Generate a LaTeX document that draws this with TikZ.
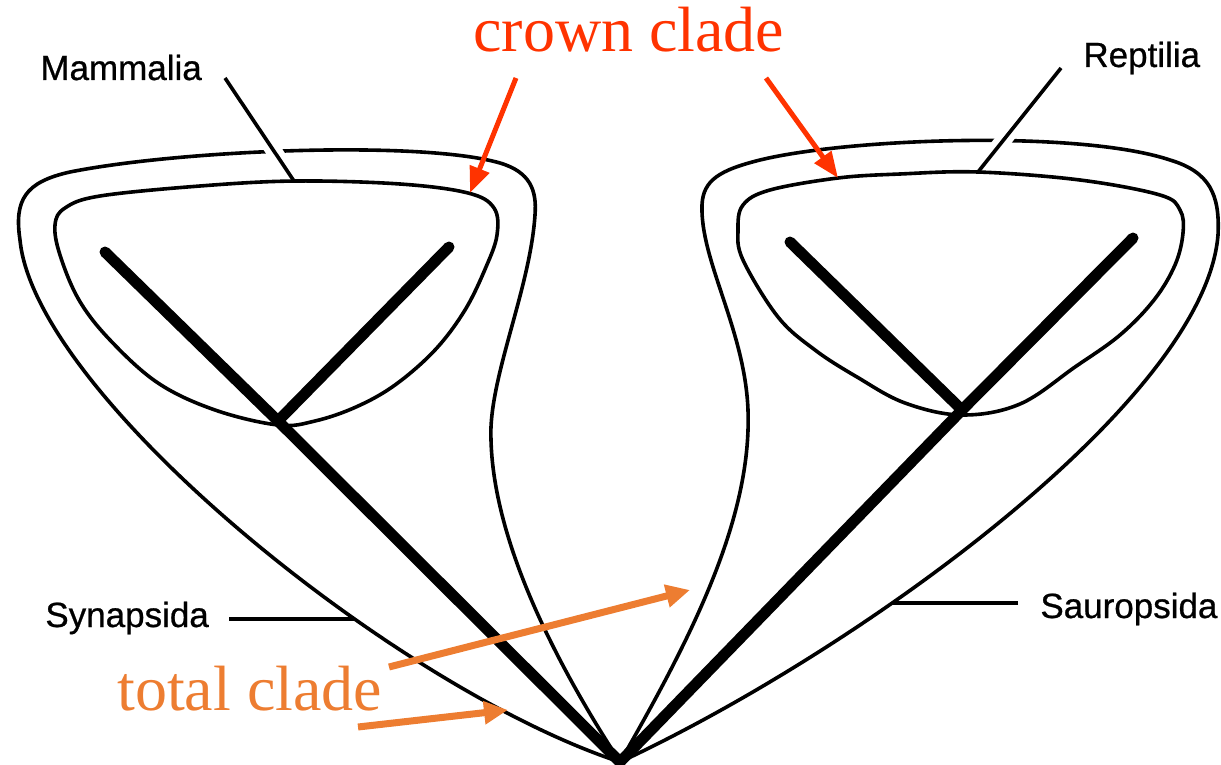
\documentclass[tikz,border=0pt]{standalone}
\usepackage{fontspec}
\setmainfont{Liberation Serif}
\setsansfont{Liberation Sans}
\newfontfamily\taxonfont[FakeBold=0.7]{Liberation Sans}
\usetikzlibrary{arrows.meta}
\definecolor{crownRed}{RGB}{255,51,0}
\definecolor{totalOrange}{RGB}{237,125,49}

\tikzset{
  contour/.style={line width=1.8pt, line join=round},
  branch/.style={line width=5.5pt, line cap=round},
  taxon/.style={font=\taxonfont\fontsize{17.5}{20}\selectfont, inner sep=0pt, anchor=base west},
  pointer/.style={line width=1.8pt},
  gapmask/.style={draw=white, line width=8pt},
  cladelbl/.style={font=\fontsize{32}{36}\selectfont, inner sep=0pt, anchor=base west},
  crownarrow/.style={-{Triangle[length=13pt,width=10pt]}, line width=2.5pt, draw=crownRed},
  totalarrow/.style={-{Triangle[length=12pt,width=11pt]}, line width=3.5pt, draw=totalOrange},
}

\begin{document}
\begin{tikzpicture}[x=0.5pt,y=-0.5pt]
    \useasboundingbox (0,0) rectangle (1221,765);
    % Tree points
    \coordinate (root) at (620,762);
    \coordinate (mamN) at (278,421);
    \coordinate (mamL) at (105,252);
    \coordinate (mamR) at (449,247);
    \coordinate (repN) at (962,410);
    \coordinate (repL) at (790,242);
    \coordinate (repR) at (1133,238);
    % Total clades (outer)
    \draw[contour] (root) .. controls (395,688) and (35,395) .. coordinate[pos=0.35] (synB) (20,240)
      .. controls (14,200) and (25,182) .. (70,172)
      .. controls (180,150) and (420,140) .. (500,163)
      .. controls (530,172) and (537,190) .. (535,215)
      .. controls (530,290) and (488,380) .. (491,440)
      .. controls (494,560) and (580,700) .. (root);
    \draw[contour] (root) .. controls (690,640) and (752,520) .. (748,410)
      .. controls (745,330) and (700,260) .. (702,205)
      .. controls (703,180) and (720,170) .. (760,160)
      .. controls (850,138) and (1080,130) .. (1170,160)
      .. controls (1210,172) and (1220,195) .. (1218,235)
      .. controls (1205,400) and (860,650) .. coordinate[pos=0.65] (sauB) (root);
    % Label lines and their gaps
    \coordinate (mamA) at (225,78);
    \coordinate (mamB) at (294,181);
    \coordinate (repA) at (1061,68);
    \coordinate (repB) at (978,172);
    \coordinate (synA) at (229,0);
    \coordinate (sauA) at (1018,0);
    \draw[gapmask] (mamA) -- (mamB);
    \draw[gapmask] (repA) -- (repB);
    % Crown clades (inner)
    \draw[contour] plot[smooth cycle, tension=0.6] coordinates {(278,425) (215,410) (158,383) (110,340) (79,300) (60,255) (55,225) (65,208) (100,196) (200,186) (296,181) (400,184) (468,193) (494,208) (497,235) (486,267) (465,310) (435,350) (395,385) (356,407) (315,421)};
    \draw[contour] plot[smooth cycle, tension=0.6] coordinates {(962,415) (1020,404) (1075,367) (1120,335) (1154,300) (1175,265) (1183,233) (1180,210) (1160,195) (1080,180) (978,172) (900,174) (838,178) (770,190) (743,205) (738,230) (743,260) (778,317) (815,350) (857,377) (905,403)};
    % Branches
    \draw[branch] (mamL) -- (mamN) -- (root);
    \draw[branch] (mamR) -- (mamN);
    \draw[branch] (repL) -- (repN);
    \draw[branch] (repR) -- (repN) -- (root);
    \draw[pointer] (mamA) -- (mamB);
    \draw[pointer] (repA) -- (repB);
    \draw[pointer] (synA |- synB) -- (synB);
    \draw[pointer] (sauA |- sauB) -- (sauB);
    % Taxon names
    \node[taxon] (mam) at (40,80) {Mammalia};
    \node[taxon] (rep) at (1083,67) {Reptilia};
    \node[taxon] (syn) at (45,627) {Synapsida};
    \node[taxon] (sau) at (1040,618) {Sauropsida};
    % Annotations
    \node[cladelbl, text=crownRed] (crown) at (473,52) {crown clade};
    \node[cladelbl, text=totalOrange] (total) at (117,710) {total clade};
    \coordinate (crA) at (516,78);
    \coordinate (crB) at (470,193);
    \coordinate (crC) at (766,78);
    \coordinate (crD) at (838,178);
    \draw[crownarrow] (crA) -- (crB);
    \draw[crownarrow] (crC) -- (crD);
    \coordinate (toA) at (389,667);
    \coordinate (toB) at (690,590);
    \coordinate (toC) at (358,727);
    \coordinate (toD) at (508,710);
    \draw[totalarrow] (toA) -- (toB);
    \draw[totalarrow] (toC) -- (toD);
\end{tikzpicture}
\end{document}
